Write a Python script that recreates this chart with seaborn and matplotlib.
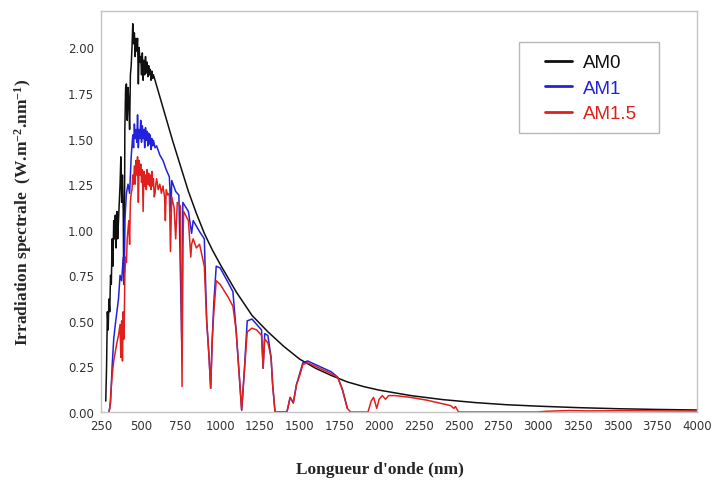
import pandas as pd
import matplotlib
matplotlib.use("Agg")
import matplotlib.pyplot as plt
from matplotlib.patches import Rectangle
import seaborn as sns

# Spectral irradiance (W.m-2.nm-1)
am0_nm = [280, 285, 290, 295, 300, 305, 310, 315, 320, 325, 330, 335, 340, 345, 350,
          355, 360, 365, 370, 375, 380, 385, 390, 393, 397, 400, 405, 410, 415, 420,
          425, 430, 435, 440, 445, 450, 455, 460, 465, 470, 475, 480, 485, 490, 495,
          500, 505, 510, 515, 520, 525, 530, 535, 540, 545, 550, 555, 560, 565, 570,
          575, 580, 590, 600, 620, 640, 670, 700, 750, 800, 850, 900, 950, 1000, 1100,
          1200, 1300, 1400, 1500, 1600, 1700, 1800, 1900, 2000, 2200, 2400, 2600, 2800,
          3000, 3250, 3500, 3750, 4000]
am0_val = [0.06, 0.25, 0.55, 0.45, 0.62, 0.55, 0.75, 0.70, 0.95, 0.80, 1.05, 0.95, 1.08,
           0.90, 1.10, 0.95, 1.05, 1.15, 1.25, 1.40, 1.15, 1.30, 1.10, 0.70, 0.85, 1.55,
           1.78, 1.80, 1.60, 1.78, 1.70, 1.55, 1.85, 1.90, 2.00, 2.13, 2.02, 2.08, 1.95,
           2.05, 1.98, 2.05, 1.80, 2.00, 1.92, 1.95, 1.85, 1.97, 1.82, 1.93, 1.85, 1.95,
           1.86, 1.92, 1.84, 1.90, 1.85, 1.88, 1.82, 1.87, 1.83, 1.85, 1.82, 1.79, 1.73,
           1.67, 1.58, 1.49, 1.35, 1.21, 1.09, 0.98, 0.89, 0.81, 0.66, 0.53, 0.44, 0.36,
           0.29, 0.24, 0.20, 0.165, 0.14, 0.12, 0.09, 0.068, 0.052, 0.04, 0.032, 0.024,
           0.018, 0.014, 0.011]

am1_nm = [300, 310, 320, 330, 340, 350, 360, 370, 380, 390, 395, 400, 410, 420, 430,
          440, 450, 455, 460, 465, 470, 475, 480, 485, 490, 495, 500, 505, 510, 515,
          520, 525, 530, 535, 540, 545, 550, 555, 560, 565, 570, 575, 580, 590, 600,
          620, 640, 660, 680, 690, 695, 720, 740, 760, 765, 800, 820, 830, 850, 870,
          900, 915, 930, 940, 950, 960, 975, 1000, 1050, 1080, 1100, 1120, 1135, 1150,
          1170, 1200, 1230, 1260, 1270, 1280, 1300, 1320, 1330, 1345, 1420, 1440, 1460,
          1480, 1500, 1520, 1550, 1600, 1650, 1700, 1740, 1770, 1800]
am1_val = [0.0, 0.05, 0.25, 0.40, 0.48, 0.55, 0.62, 0.75, 0.72, 0.85, 0.70, 1.05, 1.20,
           1.25, 1.20, 1.40, 1.52, 1.45, 1.58, 1.50, 1.55, 1.48, 1.63, 1.45, 1.55, 1.50,
           1.60, 1.48, 1.57, 1.50, 1.55, 1.45, 1.56, 1.49, 1.54, 1.46, 1.53, 1.47, 1.52,
           1.44, 1.50, 1.46, 1.49, 1.45, 1.46, 1.41, 1.38, 1.33, 1.29, 1.10, 1.27, 1.21,
           1.19, 0.30, 1.15, 1.10, 0.98, 1.05, 1.02, 0.99, 0.95, 0.50, 0.30, 0.13, 0.40,
           0.60, 0.80, 0.79, 0.71, 0.66, 0.45, 0.20, 0.01, 0.20, 0.50, 0.51, 0.48, 0.45,
           0.24, 0.43, 0.42, 0.30, 0.15, 0.0, 0.0, 0.08, 0.05, 0.15, 0.21, 0.27, 0.28,
           0.26, 0.24, 0.22, 0.19, 0.12, 0.02]

am15_nm = [300, 305, 310, 320, 330, 340, 350, 360, 370, 375, 380, 385, 390, 395, 400,
           405, 410, 415, 420, 425, 430, 435, 440, 445, 450, 455, 460, 465, 470, 475,
           480, 485, 490, 495, 500, 505, 510, 515, 520, 525, 530, 535, 540, 545, 550,
           555, 560, 565, 570, 575, 580, 585, 590, 595, 600, 610, 620, 630, 640, 650,
           655, 660, 670, 680, 687, 695, 710, 720, 730, 750, 760, 765, 770, 800, 815,
           820, 830, 850, 870, 900, 915, 930, 940, 950, 960, 975, 1000, 1050, 1080, 1100,
           1120, 1135, 1150, 1170, 1200, 1230, 1260, 1270, 1280, 1300, 1320, 1330, 1345,
           1420, 1440, 1460, 1480, 1500, 1520, 1550, 1600, 1650, 1700, 1740, 1770, 1800,
           1820, 1930, 1950, 1965, 1985, 2000, 2020, 2040, 2060, 2100, 2200, 2300, 2400,
           2450, 2470, 2480, 2500, 3000, 3050, 3200, 3300, 3500, 3750, 4000]
am15_val = [0.0, 0.02, 0.08, 0.20, 0.28, 0.33, 0.38, 0.42, 0.48, 0.30, 0.50, 0.28, 0.55,
            0.40, 0.75, 0.85, 0.82, 0.95, 1.00, 1.05, 0.92, 1.15, 1.20, 1.22, 1.30, 1.25,
            1.35, 1.25, 1.38, 1.30, 1.40, 1.15, 1.38, 1.30, 1.36, 1.26, 1.33, 1.10, 1.32,
            1.24, 1.30, 1.22, 1.33, 1.25, 1.31, 1.24, 1.30, 1.22, 1.32, 1.24, 1.28, 1.18,
            1.20, 1.25, 1.28, 1.22, 1.25, 1.20, 1.24, 1.18, 1.05, 1.22, 1.19, 1.20, 0.88,
            1.18, 1.12, 0.95, 1.15, 1.13, 0.14, 0.90, 1.10, 1.05, 0.85, 0.92, 0.95, 0.90,
            0.92, 0.80, 0.50, 0.30, 0.13, 0.40, 0.55, 0.72, 0.70, 0.63, 0.58, 0.45, 0.20,
            0.01, 0.20, 0.44, 0.46, 0.45, 0.42, 0.24, 0.40, 0.38, 0.30, 0.15, 0.0, 0.0,
            0.08, 0.05, 0.15, 0.20, 0.26, 0.27, 0.25, 0.23, 0.21, 0.19, 0.12, 0.02, 0.0,
            0.0, 0.06, 0.08, 0.02, 0.07, 0.09, 0.07, 0.09, 0.09, 0.08, 0.065, 0.045, 0.035,
            0.02, 0.03, 0.0, 0.0, 0.004, 0.008, 0.006, 0.007, 0.006, 0.005]

labels = ["AM0", "AM1", "AM1.5"]
colors = ["#101010", "#2222dd", "#e0201c"]

sns.set_style("white")
plt.rcParams["font.family"] = ["DejaVu Sans"]
plt.rcParams["mathtext.fontset"] = "custom"
plt.rcParams["mathtext.rm"] = "Liberation Serif:bold"
plt.rcParams["mathtext.it"] = "Liberation Serif:bold"
plt.rcParams["mathtext.bf"] = "Liberation Serif:bold"

fig = plt.figure(figsize=(7.12, 4.85), dpi=100)
ax = fig.add_axes([101 / 712, 1 - 413 / 485, 596 / 712, 401 / 485])

series = [(am0_nm, am0_val), (am1_nm, am1_val), (am15_nm, am15_val)]
for (nm, val), lab, col in zip(series, labels, colors):
    df = pd.DataFrame({"nm": nm, "val": val})
    sns.lineplot(data=df, x="nm", y="val", ax=ax, color=col, lw=1.1,
                 label=lab, estimator=None, sort=False)

ax.set_xlim(250, 4000)
ax.set_ylim(0, 2.2)
ax.set_xticks(range(250, 4001, 250))
ax.set_yticks([0, 0.25, 0.5, 0.75, 1.0, 1.25, 1.5, 1.75, 2.0])
ax.set_yticklabels([f"{v:.2f}" for v in ax.get_yticks()])
ax.tick_params(length=0, labelsize=8.5, labelcolor="#333333", pad=5)
for s in ax.spines.values():
    s.set_color("#c4c4c4")
    s.set_linewidth(1.0)
ax.set_xlabel("")
ax.set_ylabel("")

fig.text(380 / 712, 1 - 470 / 485, "Longueur d'onde (nm)", ha="center", va="center",
         family="Liberation Serif", weight="bold", fontsize=12.5)
fig.text(23 / 712, 1 - 212 / 485,
         r"Irradiation spectrale  (W.m$^{\mathrm{-2}}$.nm$^{\mathrm{-1}}$)",
         ha="center", va="center", rotation=90,
         family="Liberation Serif", weight="bold", fontsize=12.5)

# legend box drawn separately so its padding can match the reference
fig.patches.append(Rectangle((519 / 712, 1 - 134 / 485), 140 / 712, 91 / 485,
                             transform=fig.transFigure, fill=False,
                             edgecolor="#b8b8b8", lw=1.0))
leg = ax.legend(loc="upper left", bbox_to_anchor=(545 / 712, 1 - 55 / 485),
                bbox_transform=fig.transFigure, frameon=False,
                prop={"family": "Liberation Sans", "size": 13.5},
                handlelength=1.45, handletextpad=0.55, labelspacing=0.45,
                borderpad=0, borderaxespad=0)
for t, col in zip(leg.get_texts(), colors):
    t.set_color(col)
for h in leg.get_lines():
    h.set_linewidth(2.0)

fig.savefig("out.png", dpi=100)
